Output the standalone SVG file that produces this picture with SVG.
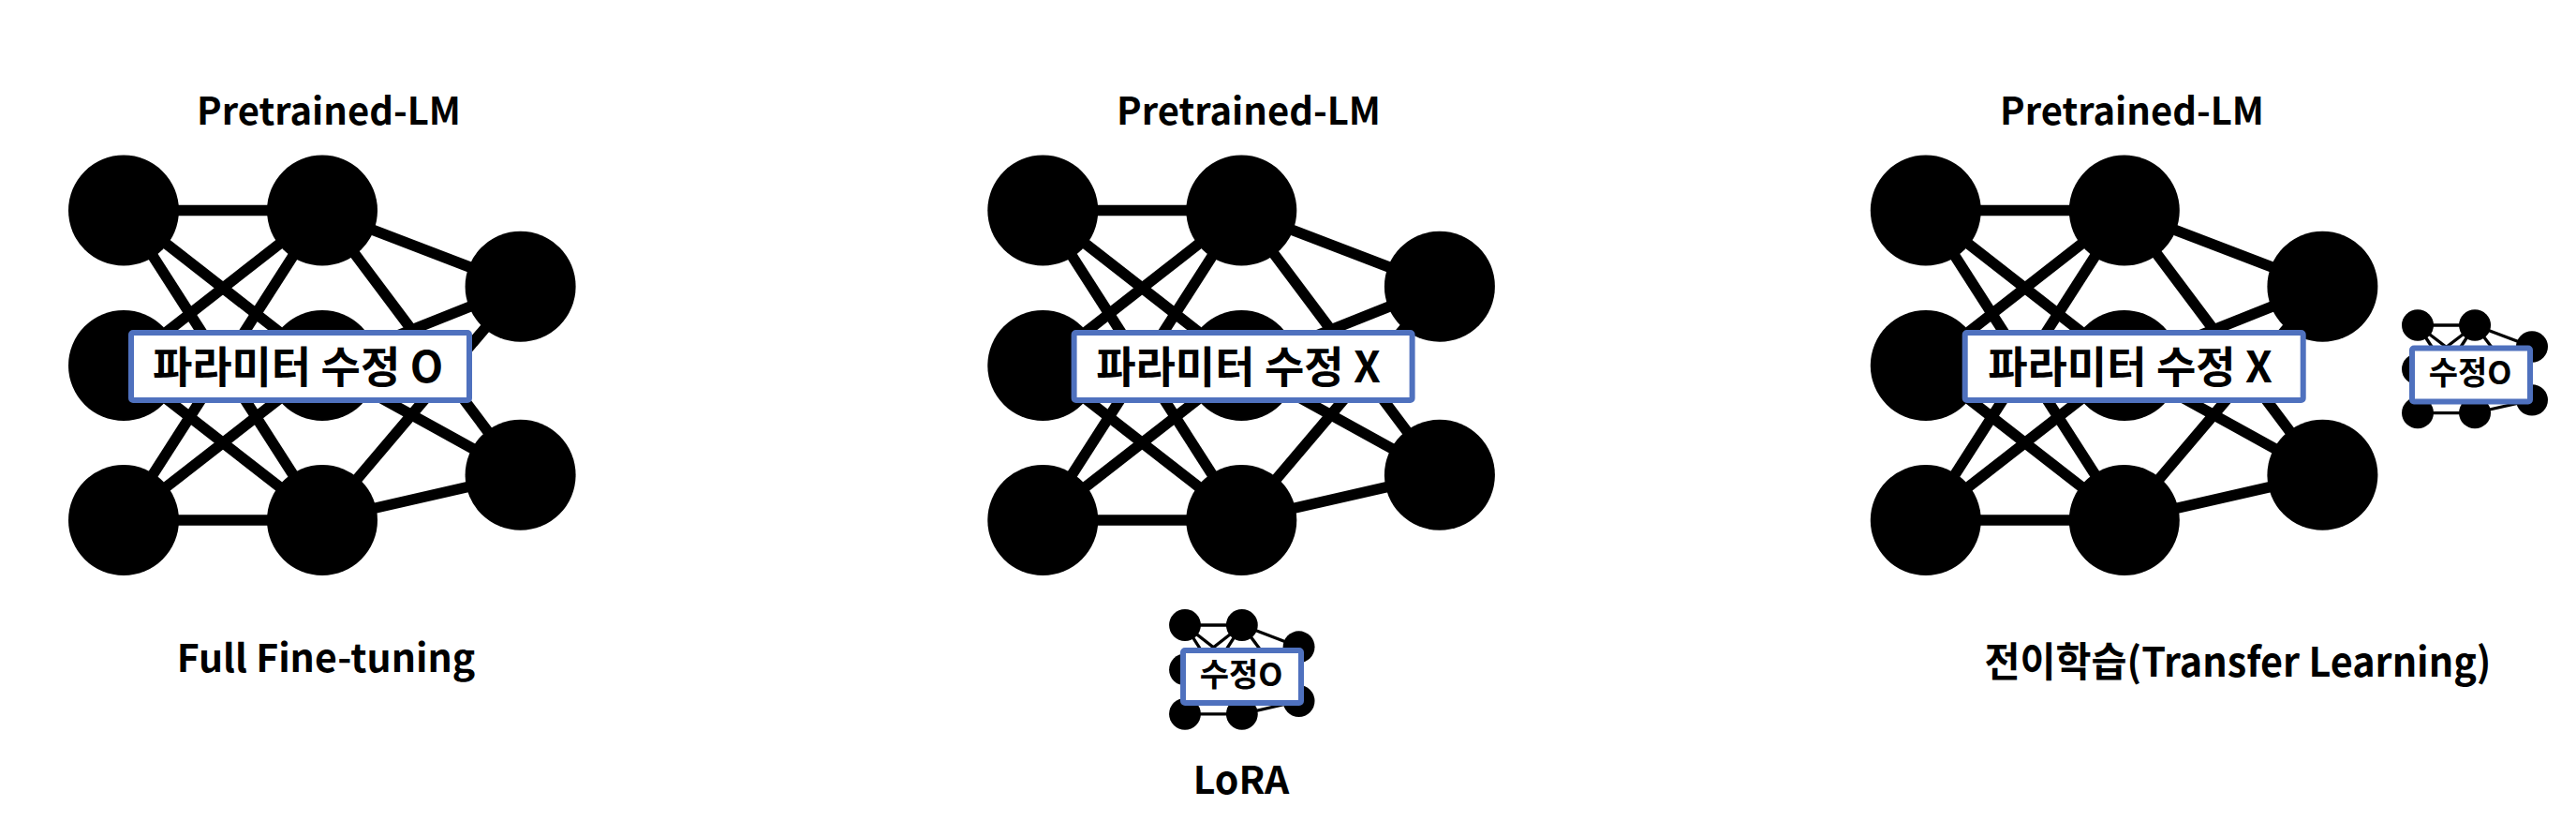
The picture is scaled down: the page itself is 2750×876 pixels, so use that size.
<svg xmlns="http://www.w3.org/2000/svg" width="2750" height="876" viewBox="0 0 2750 876">
<defs>
<style>
.edge{stroke:#000;stroke-width:11.5;stroke-linecap:butt}
.node{fill:#000}
.box{fill:#fff;stroke:#4F71BE;stroke-width:6}
.t{font-family:"Noto Sans CJK KR","Noto Sans",sans-serif;font-weight:700;fill:#000;text-anchor:middle}
.title{font-size:40px}
.lbl{font-size:41px}
.btxt{font-size:46px}
.stxt{font-size:34px}
</style>
</defs>
<rect width="2750" height="876" fill="#fff"/>

<!-- Panel 1: Full Fine-tuning -->
<text class="t title" x="351" y="133">Pretrained-LM</text>
<g id="p1-net" transform="translate(132,224.6)">
  <g id="p1-connectors">
    <line class="edge" x1="0" y1="0" x2="212" y2="0"/>
    <line class="edge" x1="0" y1="0" x2="212" y2="165.4"/>
    <line class="edge" x1="0" y1="0" x2="212" y2="330.4"/>
    <line class="edge" x1="212" y1="0" x2="0" y2="165.4"/>
    <line class="edge" x1="212" y1="0" x2="0" y2="330.4"/>
    <line class="edge" x1="212" y1="0" x2="423.6" y2="81.1"/>
    <line class="edge" x1="212" y1="0" x2="423.6" y2="282.2"/>
    <line class="edge" x1="0" y1="165.4" x2="212" y2="330.4"/>
    <line class="edge" x1="212" y1="165.4" x2="423.6" y2="81.1"/>
    <line class="edge" x1="212" y1="165.4" x2="423.6" y2="282.2"/>
    <line class="edge" x1="0" y1="330.4" x2="212" y2="330.4"/>
    <line class="edge" x1="0" y1="330.4" x2="212" y2="165.4"/>
    <line class="edge" x1="212" y1="330.4" x2="423.6" y2="81.1"/>
    <line class="edge" x1="212" y1="330.4" x2="423.6" y2="282.2"/>
  </g>
  <g id="p1-n-tl"><circle class="node" cx="0" cy="0" r="59"/></g>
  <g id="p1-n-tm"><circle class="node" cx="212" cy="0" r="59"/></g>
  <g id="p1-n-rt"><circle class="node" cx="423.6" cy="81.1" r="59"/></g>
  <g id="p1-n-ml"><circle class="node" cx="0" cy="165.4" r="59"/></g>
  <g id="p1-n-mm"><circle class="node" cx="212" cy="165.4" r="59"/></g>
  <g id="p1-n-bl"><circle class="node" cx="0" cy="330.4" r="59"/></g>
  <g id="p1-n-bm"><circle class="node" cx="212" cy="330.4" r="59"/></g>
  <g id="p1-n-rb"><circle class="node" cx="423.6" cy="282.2" r="59"/></g>
</g>
<g id="p1-box">
  <rect class="box" x="140" y="355" width="361" height="72" rx="2"/>
  <text class="t btxt" x="318" y="408">파라미터 수정 O</text>
</g>
<text class="t lbl" x="348" y="717">Full Fine-tuning</text>

<!-- Panel 2: LoRA -->
<text class="t title" x="1333" y="133">Pretrained-LM</text>
<g id="p2-net" transform="translate(1113.3,224.6)">
  <g id="p2-connectors">
    <line class="edge" x1="0" y1="0" x2="212" y2="0"/>
    <line class="edge" x1="0" y1="0" x2="212" y2="165.4"/>
    <line class="edge" x1="0" y1="0" x2="212" y2="330.4"/>
    <line class="edge" x1="212" y1="0" x2="0" y2="165.4"/>
    <line class="edge" x1="212" y1="0" x2="0" y2="330.4"/>
    <line class="edge" x1="212" y1="0" x2="423.6" y2="81.1"/>
    <line class="edge" x1="212" y1="0" x2="423.6" y2="282.2"/>
    <line class="edge" x1="0" y1="165.4" x2="212" y2="330.4"/>
    <line class="edge" x1="212" y1="165.4" x2="423.6" y2="81.1"/>
    <line class="edge" x1="212" y1="165.4" x2="423.6" y2="282.2"/>
    <line class="edge" x1="0" y1="330.4" x2="212" y2="330.4"/>
    <line class="edge" x1="0" y1="330.4" x2="212" y2="165.4"/>
    <line class="edge" x1="212" y1="330.4" x2="423.6" y2="81.1"/>
    <line class="edge" x1="212" y1="330.4" x2="423.6" y2="282.2"/>
  </g>
  <g id="p2-n-tl"><circle class="node" cx="0" cy="0" r="59"/></g>
  <g id="p2-n-tm"><circle class="node" cx="212" cy="0" r="59"/></g>
  <g id="p2-n-rt"><circle class="node" cx="423.6" cy="81.1" r="59"/></g>
  <g id="p2-n-ml"><circle class="node" cx="0" cy="165.4" r="59"/></g>
  <g id="p2-n-mm"><circle class="node" cx="212" cy="165.4" r="59"/></g>
  <g id="p2-n-bl"><circle class="node" cx="0" cy="330.4" r="59"/></g>
  <g id="p2-n-bm"><circle class="node" cx="212" cy="330.4" r="59"/></g>
  <g id="p2-n-rb"><circle class="node" cx="423.6" cy="282.2" r="59"/></g>
</g>
<g id="p2-box">
  <rect class="box" x="1146.6" y="355" width="361" height="72" rx="2"/>
  <text class="t btxt" x="1322" y="408">파라미터 수정 X</text>
</g>
<g id="p2-small-net" transform="translate(1265,667) scale(0.287)">
  <g id="p2s-connectors">
    <line class="edge" x1="0" y1="0" x2="212" y2="0"/>
    <line class="edge" x1="0" y1="0" x2="212" y2="165.4"/>
    <line class="edge" x1="0" y1="0" x2="212" y2="330.4"/>
    <line class="edge" x1="212" y1="0" x2="0" y2="165.4"/>
    <line class="edge" x1="212" y1="0" x2="0" y2="330.4"/>
    <line class="edge" x1="212" y1="0" x2="423.6" y2="81.1"/>
    <line class="edge" x1="212" y1="0" x2="423.6" y2="282.2"/>
    <line class="edge" x1="0" y1="165.4" x2="212" y2="330.4"/>
    <line class="edge" x1="212" y1="165.4" x2="423.6" y2="81.1"/>
    <line class="edge" x1="212" y1="165.4" x2="423.6" y2="282.2"/>
    <line class="edge" x1="0" y1="330.4" x2="212" y2="330.4"/>
    <line class="edge" x1="0" y1="330.4" x2="212" y2="165.4"/>
    <line class="edge" x1="212" y1="330.4" x2="423.6" y2="81.1"/>
    <line class="edge" x1="212" y1="330.4" x2="423.6" y2="282.2"/>
  </g>
  <g id="p2s-n-tl"><circle class="node" cx="0" cy="0" r="59"/></g>
  <g id="p2s-n-tm"><circle class="node" cx="212" cy="0" r="59"/></g>
  <g id="p2s-n-rt"><circle class="node" cx="423.6" cy="81.1" r="59"/></g>
  <g id="p2s-n-ml"><circle class="node" cx="0" cy="165.4" r="59"/></g>
  <g id="p2s-n-mm"><circle class="node" cx="212" cy="165.4" r="59"/></g>
  <g id="p2s-n-bl"><circle class="node" cx="0" cy="330.4" r="59"/></g>
  <g id="p2s-n-bm"><circle class="node" cx="212" cy="330.4" r="59"/></g>
  <g id="p2s-n-rb"><circle class="node" cx="423.6" cy="282.2" r="59"/></g>
</g>
<g id="p2-small-box">
  <rect class="box" x="1263" y="694" width="126" height="56" rx="2"/>
  <text class="t stxt" x="1325" y="732">수정O</text>
</g>
<text class="t lbl" x="1325" y="847">LoRA</text>

<!-- Panel 3: Transfer Learning -->
<text class="t title" x="2276" y="133">Pretrained-LM</text>
<g id="p3-net" transform="translate(2055.8,224.6)">
  <g id="p3-connectors">
    <line class="edge" x1="0" y1="0" x2="212" y2="0"/>
    <line class="edge" x1="0" y1="0" x2="212" y2="165.4"/>
    <line class="edge" x1="0" y1="0" x2="212" y2="330.4"/>
    <line class="edge" x1="212" y1="0" x2="0" y2="165.4"/>
    <line class="edge" x1="212" y1="0" x2="0" y2="330.4"/>
    <line class="edge" x1="212" y1="0" x2="423.6" y2="81.1"/>
    <line class="edge" x1="212" y1="0" x2="423.6" y2="282.2"/>
    <line class="edge" x1="0" y1="165.4" x2="212" y2="330.4"/>
    <line class="edge" x1="212" y1="165.4" x2="423.6" y2="81.1"/>
    <line class="edge" x1="212" y1="165.4" x2="423.6" y2="282.2"/>
    <line class="edge" x1="0" y1="330.4" x2="212" y2="330.4"/>
    <line class="edge" x1="0" y1="330.4" x2="212" y2="165.4"/>
    <line class="edge" x1="212" y1="330.4" x2="423.6" y2="81.1"/>
    <line class="edge" x1="212" y1="330.4" x2="423.6" y2="282.2"/>
  </g>
  <g id="p3-n-tl"><circle class="node" cx="0" cy="0" r="59"/></g>
  <g id="p3-n-tm"><circle class="node" cx="212" cy="0" r="59"/></g>
  <g id="p3-n-rt"><circle class="node" cx="423.6" cy="81.1" r="59"/></g>
  <g id="p3-n-ml"><circle class="node" cx="0" cy="165.4" r="59"/></g>
  <g id="p3-n-mm"><circle class="node" cx="212" cy="165.4" r="59"/></g>
  <g id="p3-n-bl"><circle class="node" cx="0" cy="330.4" r="59"/></g>
  <g id="p3-n-bm"><circle class="node" cx="212" cy="330.4" r="59"/></g>
  <g id="p3-n-rb"><circle class="node" cx="423.6" cy="282.2" r="59"/></g>
</g>
<g id="p3-box">
  <rect class="box" x="2097.7" y="355" width="361" height="72" rx="2"/>
  <text class="t btxt" x="2274" y="408">파라미터 수정 X</text>
</g>
<g id="p3-small-net" transform="translate(2581,347) scale(0.288,0.283)">
  <g id="p3s-connectors">
    <line class="edge" x1="0" y1="0" x2="212" y2="0"/>
    <line class="edge" x1="0" y1="0" x2="212" y2="165.4"/>
    <line class="edge" x1="0" y1="0" x2="212" y2="330.4"/>
    <line class="edge" x1="212" y1="0" x2="0" y2="165.4"/>
    <line class="edge" x1="212" y1="0" x2="0" y2="330.4"/>
    <line class="edge" x1="212" y1="0" x2="423.6" y2="81.1"/>
    <line class="edge" x1="212" y1="0" x2="423.6" y2="282.2"/>
    <line class="edge" x1="0" y1="165.4" x2="212" y2="330.4"/>
    <line class="edge" x1="212" y1="165.4" x2="423.6" y2="81.1"/>
    <line class="edge" x1="212" y1="165.4" x2="423.6" y2="282.2"/>
    <line class="edge" x1="0" y1="330.4" x2="212" y2="330.4"/>
    <line class="edge" x1="0" y1="330.4" x2="212" y2="165.4"/>
    <line class="edge" x1="212" y1="330.4" x2="423.6" y2="81.1"/>
    <line class="edge" x1="212" y1="330.4" x2="423.6" y2="282.2"/>
  </g>
  <g id="p3s-n-tl"><circle class="node" cx="0" cy="0" r="59"/></g>
  <g id="p3s-n-tm"><circle class="node" cx="212" cy="0" r="59"/></g>
  <g id="p3s-n-rt"><circle class="node" cx="423.6" cy="81.1" r="59"/></g>
  <g id="p3s-n-ml"><circle class="node" cx="0" cy="165.4" r="59"/></g>
  <g id="p3s-n-mm"><circle class="node" cx="212" cy="165.4" r="59"/></g>
  <g id="p3s-n-bl"><circle class="node" cx="0" cy="330.4" r="59"/></g>
  <g id="p3s-n-bm"><circle class="node" cx="212" cy="330.4" r="59"/></g>
  <g id="p3s-n-rb"><circle class="node" cx="423.6" cy="282.2" r="59"/></g>
</g>
<g id="p3-small-box">
  <rect class="box" x="2575" y="371.5" width="126" height="57" rx="2"/>
  <text class="t stxt" x="2637" y="410">수정O</text>
</g>
<text class="t lbl" x="2389" y="722" textLength="541" lengthAdjust="spacingAndGlyphs" style="font-size:43px">전이학습(Transfer Learning)</text>
</svg>
